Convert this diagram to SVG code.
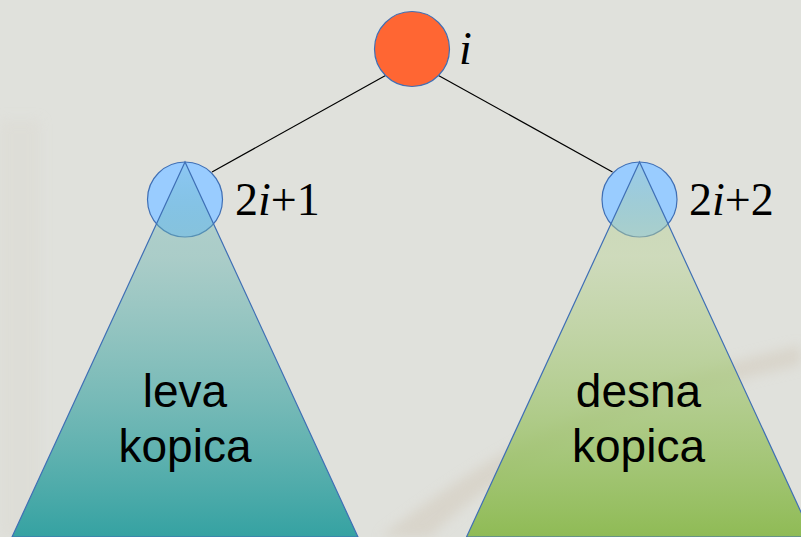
<svg xmlns="http://www.w3.org/2000/svg" width="801" height="537" viewBox="0 0 801 537">
  <style>
    .edge { stroke: #000; stroke-width: 1.2; fill: none; }
    .child { fill: #99ccff; stroke: #3f6fb5; stroke-width: 1.2; }
    .root { fill: #ff6633; stroke: #3f6fb5; stroke-width: 1.2; }
    .tri { stroke: #3f6fb5; stroke-width: 1.2; }
    .idx { font-family: "Liberation Serif", "Times New Roman", serif; font-size: 46px; fill: #000; }
    .idx tspan.v { font-style: italic; }
    .lbl { font-family: "Liberation Sans", Arial, sans-serif; font-size: 46px; fill: #000; text-anchor: middle; }
  </style>
  <defs>
    <linearGradient id="gLeft" gradientUnits="userSpaceOnUse" x1="0" y1="162" x2="0" y2="537">
      <stop offset="0" stop-color="#3aa5a5" stop-opacity="0.12"/>
      <stop offset="0.25" stop-color="#7fbcb8" stop-opacity="0.55"/>
      <stop offset="1" stop-color="#35a2a2" stop-opacity="1"/>
    </linearGradient>
    <linearGradient id="gRight" gradientUnits="userSpaceOnUse" x1="0" y1="162" x2="0" y2="537">
      <stop offset="0" stop-color="#9cc46a" stop-opacity="0.12"/>
      <stop offset="0.25" stop-color="#c2d6a6" stop-opacity="0.6"/>
      <stop offset="1" stop-color="#8fbb55" stop-opacity="1"/>
    </linearGradient>
    <filter id="soft" x="-20%" y="-20%" width="140%" height="140%">
      <feGaussianBlur stdDeviation="6"/>
    </filter>
  </defs>

  <!-- backdrop -->
  <rect x="0" y="0" width="801" height="537" fill="#e0e1dc"/>
  <g filter="url(#soft)" opacity="0.55">
    <path d="M380 537 C470 470 560 400 801 345 L801 365 C600 410 500 470 430 537 Z" fill="#d3cbbd"/>
    <path d="M0 120 L40 120 L40 537 L0 537 Z" fill="#dcdad3"/>
  </g>

  <!-- connectors -->
  <g id="edges">
    <line class="edge" x1="385.5" y1="75.5" x2="212" y2="172"/>
    <line class="edge" x1="438.5" y1="75.5" x2="612.5" y2="172"/>
  </g>

  <!-- root node -->
  <g id="node-i">
    <circle class="root" cx="412" cy="49" r="37.5"/>
    <text class="idx" x="459" y="64"><tspan class="v">i</tspan></text>
  </g>

  <!-- left child and its subheap -->
  <g id="node-left">
    <circle class="child" cx="185" cy="199.5" r="37.5"/>
    <polygon class="tri" points="185,162 12,537 358,537" fill="url(#gLeft)"/>
    <text class="idx" x="235" y="215">2<tspan class="v">i</tspan>+1</text>
    <text class="lbl" x="185" y="407">leva</text>
    <text class="lbl" x="185" y="462">kopica</text>
  </g>

  <!-- right child and its subheap -->
  <g id="node-right">
    <circle class="child" cx="639.5" cy="199.5" r="37.5"/>
    <polygon class="tri" points="639.5,162 466.5,537 812.5,537" fill="url(#gRight)"/>
    <text class="idx" x="689" y="215">2<tspan class="v">i</tspan>+2</text>
    <text class="lbl" x="638.5" y="407">desna</text>
    <text class="lbl" x="638.5" y="462">kopica</text>
  </g>
</svg>
